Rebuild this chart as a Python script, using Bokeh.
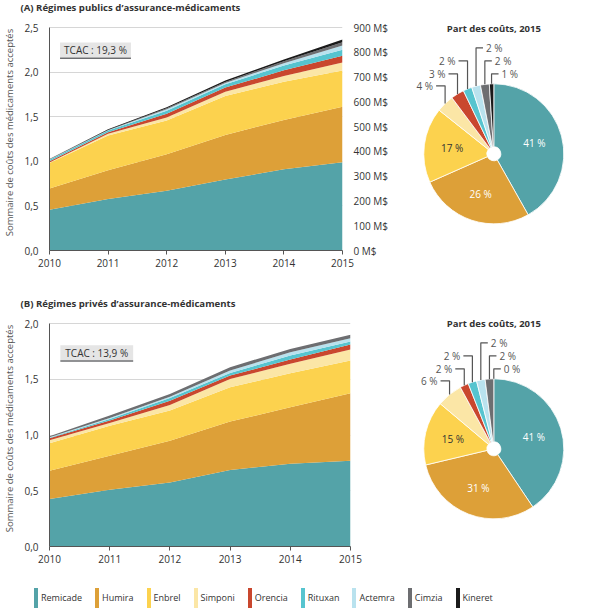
import numpy as np
from bokeh.plotting import figure
from bokeh.models import (ColumnDataSource, Range1d, LinearAxis, FixedTicker,
                          CustomJSTickFormatter, PrintfTickFormatter, BoxAnnotation,
                          Label, Legend, LegendItem)
from bokeh.layouts import column, row
from bokeh.embed import file_html
from bokeh.resources import INLINE
from bokeh.core.properties import value

FONT = "Open Sans"

years = [2010, 2011, 2012, 2013, 2014, 2015]
drugs = ["Remicade", "Humira", "Enbrel", "Simponi", "Orencia",
         "Rituxan", "Actemra", "Cimzia", "Kineret"]
colors = ["#54A3A8", "#DDA038", "#FCD24E", "#FBE6A6", "#C9472E",
          "#56C4CF", "#B9E2EE", "#6D6E71", "#1A1A1A"]

# (A) public plans (stack pieces)
pub_remicade = [0.456, 0.578, 0.670, 0.796, 0.910, 0.990]
pub_humira   = [0.240, 0.322, 0.408, 0.500, 0.553, 0.621]
pub_enbrel   = [0.285, 0.389, 0.378, 0.437, 0.430, 0.408]
pub_simponi  = [0.005, 0.020, 0.035, 0.048, 0.064, 0.090]
pub_orencia  = [0.014, 0.018, 0.042, 0.045, 0.063, 0.075]
pub_rituxan  = [0.018, 0.018, 0.034, 0.037, 0.054, 0.067]
pub_actemra  = [0.002, 0.004, 0.016, 0.015, 0.026, 0.048]
pub_cimzia   = [0.002, 0.003, 0.011, 0.011, 0.022, 0.037]
pub_kineret  = [0.004, 0.006, 0.012, 0.016, 0.020, 0.030]

# (B) private plans
priv_remicade = [0.425, 0.509, 0.575, 0.686, 0.743, 0.769]
priv_humira   = [0.255, 0.305, 0.374, 0.434, 0.506, 0.605]
priv_enbrel   = [0.245, 0.270, 0.270, 0.308, 0.305, 0.294]
priv_simponi  = [0.027, 0.024, 0.050, 0.075, 0.084, 0.098]
priv_orencia  = [0.018, 0.021, 0.039, 0.030, 0.039, 0.045]
priv_rituxan  = [0.006, 0.015, 0.024, 0.024, 0.036, 0.027]
priv_actemra  = [0.003, 0.009, 0.012, 0.021, 0.030, 0.030]
priv_cimzia   = [0.009, 0.021, 0.024, 0.030, 0.029, 0.030]
priv_kineret  = [0.000, 0.000, 0.000, 0.000, 0.000, 0.001]

# shares of cost 2015 (%)
pub_share_2015 = [41, 26, 17, 4, 3, 2, 2, 2, 1]
priv_share_2015 = [41, 31, 15, 6, 2, 2, 2, 2, 0]

pub_title = "(A) Régimes publics d’assurance-médicaments"
priv_title = "(B) Régimes privés d’assurance-médicaments"
pie_title = "Part des coûts, 2015"
pub_tcac = "TCAC : 19,3 %"
priv_tcac = "TCAC : 13,9 %"
money_ticks = [0, 100, 200, 300, 400, 500, 600, 700, 800, 900]

public = [pub_remicade, pub_humira, pub_enbrel, pub_simponi, pub_orencia,
          pub_rituxan, pub_actemra, pub_cimzia, pub_kineret]
private = [priv_remicade, priv_humira, priv_enbrel, priv_simponi, priv_orencia,
           priv_rituxan, priv_actemra, priv_cimzia, priv_kineret]

TXT = "#333333"
GRAY = "#555555"
STRIP_H = 14      # title strip height (px)
TOP = 13          # gap between frame top and value-axis top (px)
PLOT_H = 223      # height of the value area (px)
FRAME_H = TOP + PLOT_H


def title_strip(text):
    p = figure(width=600, height=STRIP_H, x_range=Range1d(0, 600),
               y_range=Range1d(0, STRIP_H), output_backend="svg",
               toolbar_location=None, min_border=0, title=None)
    p.axis.visible = False
    p.grid.visible = False
    p.outline_line_color = None
    p.add_layout(Label(x=20, y=STRIP_H / 2 + 0.3, text=text, text_align="left",
                       text_baseline="middle", text_font=FONT, text_font_size="9.6px",
                       text_font_style="bold", text_color=TXT))
    return p


def area_fig(series, ymax, tcac, box, height, bottom, right_axis):
    data = {"year": years}
    for d, s in zip(drugs, series):
        data[d] = s
    src = ColumnDataSource(data)
    upx = ymax / PLOT_H           # data units per pixel (y)
    p = figure(width=390, height=height, x_range=Range1d(2010, 2015),
               y_range=Range1d(0, ymax + TOP * upx), output_backend="svg", title=None,
               toolbar_location=None, min_border_left=39, min_border_right=40,
               min_border_top=0, min_border_bottom=bottom)
    p.outline_line_color = None
    p.background_fill_color = "white"
    p.varea_stack(stackers=drugs, x="year", color=colors, source=src)

    p.xgrid.visible = False
    p.ygrid.grid_line_color = "#d6d6d6"
    p.ygrid.ticker = FixedTicker(ticks=list(np.arange(0, ymax + 0.01, 0.5)))

    xa = p.xaxis[0]
    xa.ticker = FixedTicker(ticks=years)
    xa.axis_line_color = GRAY
    xa.major_tick_line_color = GRAY
    xa.major_tick_out = 4
    xa.major_tick_in = 0
    xa.minor_tick_line_color = None
    xa.major_label_text_font = FONT
    xa.major_label_text_font_size = "10px"
    xa.major_label_text_color = TXT
    xa.major_label_standoff = 4

    ya = p.yaxis[0]
    ya.bounds = (0, ymax)
    ya.ticker = FixedTicker(ticks=list(np.arange(0, ymax + 0.01, 0.5)))
    ya.formatter = CustomJSTickFormatter(code="return tick.toFixed(1).replace('.', ',');")
    ya.axis_line_color = GRAY
    ya.major_tick_line_color = None
    ya.minor_tick_line_color = None
    ya.major_label_text_font = FONT
    ya.major_label_text_font_size = "10px"
    ya.major_label_text_color = TXT
    ya.major_label_standoff = 5
    ya.axis_label = "Sommaire de coûts des médicaments acceptés"
    ya.axis_label_text_font = FONT
    ya.axis_label_text_font_size = "9.5px"
    ya.axis_label_text_font_style = "normal"
    ya.axis_label_text_color = GRAY
    ya.axis_label_standoff = 5

    if right_axis:
        mmax = money_ticks[-1]
        p.extra_y_ranges = {"money": Range1d(0, mmax + TOP * mmax / PLOT_H)}
        ra = LinearAxis(y_range_name="money", ticker=FixedTicker(ticks=money_ticks),
                        formatter=PrintfTickFormatter(format="%d M$"), bounds=(0, mmax))
        ra.axis_line_color = None
        ra.major_tick_line_color = None
        ra.minor_tick_line_color = None
        ra.major_label_text_font = FONT
        ra.major_label_text_font_size = "10px"
        ra.major_label_text_color = TXT
        ra.major_label_standoff = 5
        p.add_layout(ra, "right")

    l, r, t, b, sh = box
    p.add_layout(BoxAnnotation(left=l, right=r, top=t, bottom=b,
                               fill_color="#E5E5E5", fill_alpha=1, line_color=None))
    p.add_layout(BoxAnnotation(left=l, right=r, top=b, bottom=b - sh,
                               fill_color="#6D6E71", fill_alpha=1, line_color=None))
    p.add_layout(Label(x=(l + r) / 2, y=(t + b) / 2, text=tcac, text_align="center",
                       text_baseline="middle", text_font=FONT, text_font_size="10px",
                       text_color=TXT))
    return p


def pie_fig(shares, height, bottom, cy):
    R, r0 = 70, 7
    p = figure(width=210, height=height, x_range=Range1d(-103.3, 106.7),
               y_range=Range1d(cy - FRAME_H, cy), output_backend="svg",
               toolbar_location=None, min_border_left=0, min_border_right=0,
               min_border_top=0, min_border_bottom=bottom, title=None)
    p.axis.visible = False
    p.grid.visible = False
    p.outline_line_color = None
    sh = np.array(shares, dtype=float)
    frac = sh / sh.sum()
    cum = np.concatenate([[0], np.cumsum(frac)])
    start = np.pi / 2 - 2 * np.pi * cum[:-1]
    end = np.pi / 2 - 2 * np.pi * cum[1:]
    keep = frac > 0
    src = ColumnDataSource(dict(start=start[keep], end=end[keep],
                                color=list(np.array(colors)[keep])))
    p.annular_wedge(x=0, y=0, inner_radius=r0, outer_radius=R, start_angle="start",
                    end_angle="end", direction="clock", color="color",
                    line_color="white", line_width=0.8, source=src)
    mid = 2 * np.pi * (cum[:-1] + cum[1:]) / 2
    # inner labels for big slices
    ri = 42
    p.text(x=list(ri * np.sin(mid[:3])), y=list(ri * np.cos(mid[:3])),
           text=[f"{s} %" for s in shares[:3]], text_align="center",
           text_baseline="middle", text_font=value(FONT), text_font_size="10px",
           text_color=["white", "white", TXT])
    # leader-lined labels for small slices
    heights = [68, 80, 93, 106, 93, 80]
    xs, ys, lx, ly, lt, la = [], [], [], [], [], []
    for k, i in enumerate(range(3, 9)):
        ex, ey = R * np.sin(mid[i]), R * np.cos(mid[i])
        h = heights[k]
        if k < 3:
            xs.append([ex, ex, ex - 9]); ys.append([ey, h, h])
            lx.append(ex - 12); la.append("right")
        else:
            xs.append([ex, ex, ex + 7]); ys.append([ey, h, h])
            lx.append(ex + 10); la.append("left")
        ly.append(h); lt.append(f"{shares[i]} %")
    p.multi_line(xs=xs, ys=ys, line_color=GRAY, line_width=1.2)
    p.text(x=lx, y=ly, text=lt, text_align=la, text_baseline="middle",
           text_font=value(FONT), text_font_size="10px", text_color=GRAY)
    p.add_layout(Label(x=0, y=125.6, text=pie_title, text_align="center",
                       text_baseline="middle", text_font=FONT, text_font_size="9.5px",
                       text_font_style="bold", text_color=TXT))
    return p


sA = title_strip(pub_title)
pA = area_fig(public, 2.5, pub_tcac, (2010.18, 2011.39, 2.332, 2.165, 0.018), 282, 46, True)
pieA = pie_fig(pub_share_2015, 282, 46, 139.3)
sB = title_strip(priv_title)
pB = area_fig(private, 2.0, priv_tcac, (2010.18, 2011.39, 1.805, 1.67, 0.014), 261, 25, False)
pieB = pie_fig(priv_share_2015, 261, 25, 138.3)

# legend figure
pl = figure(width=600, height=45, x_range=Range1d(0, 1), y_range=Range1d(0, 1),
            output_backend="svg", toolbar_location=None, min_border=0, title=None)
pl.axis.visible = False
pl.grid.visible = False
pl.outline_line_color = None
items = []
for d, c in zip(drugs, colors):
    rr = pl.vbar(x=[-10], top=[-10], bottom=[-11], width=0.1, fill_color=c, line_color=None)
    items.append(LegendItem(label=d, renderers=[rr]))
leg = Legend(items=items, orientation="horizontal", location=(33, 6),
             glyph_width=5, glyph_height=25, label_standoff=3, spacing=12,
             padding=0, margin=0, border_line_color=None, background_fill_alpha=0,
             label_text_font=FONT, label_text_font_size="9px", label_text_color=TXT,
             label_height=25)
pl.add_layout(leg, "center")

layout = column(sA, row(pA, pieA), sB, row(pB, pieB), pl)
open("out.html", "w").write(file_html(layout, INLINE))
